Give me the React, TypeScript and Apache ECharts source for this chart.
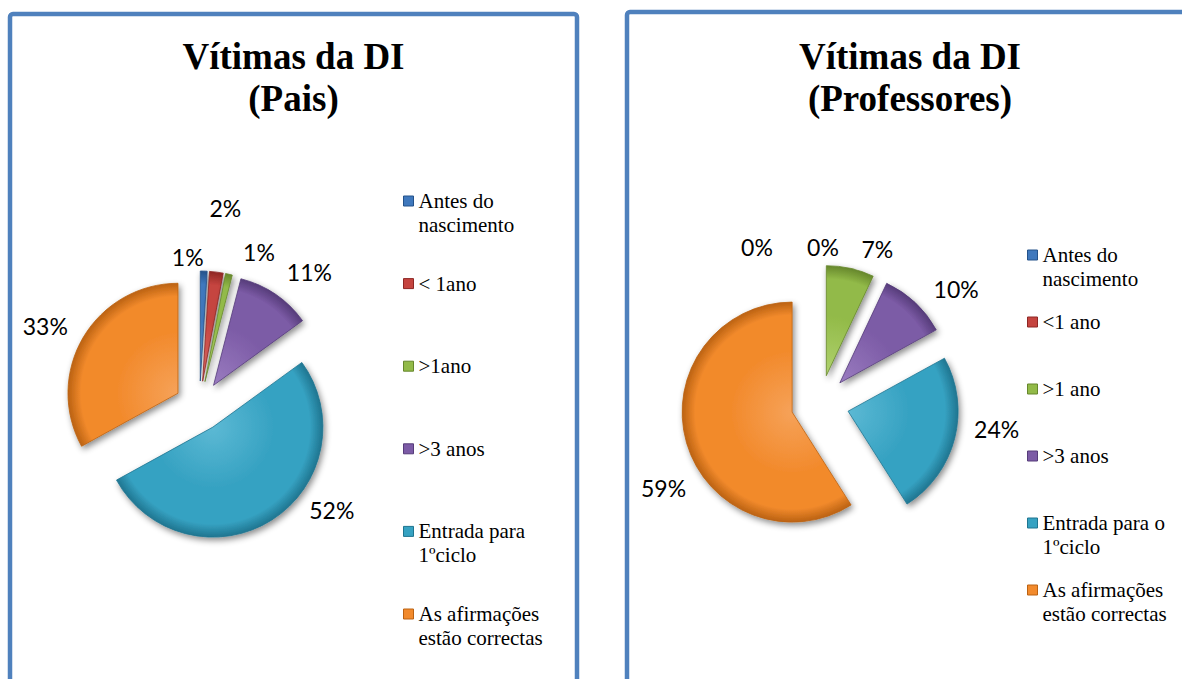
import React, { useEffect, useRef } from 'react';
import * as echarts from 'echarts';

// ---- data ----
const categoriesPais = ['Antes do nascimento', '< 1ano', '>1ano', '>3 anos', 'Entrada para 1ºciclo', 'As afirmações estão correctas'];
const valuesPais = [1, 2, 1, 11, 52, 33];
const categoriesProf = ['Antes do nascimento', '<1 ano', '>1 ano', '>3 anos', 'Entrada para o 1ºciclo', 'As afirmações estão correctas'];
const valuesProf = [0, 0, 7, 10, 24, 59];
const titlePais = 'Vítimas da DI\n(Pais)';
const titleProf = 'Vítimas da DI\n(Professores)';

// legend line breaks (layout only)
const legendBreaks: Record<string, string> = {
  'Antes do nascimento': 'Antes do\nnascimento',
  'Entrada para 1ºciclo': 'Entrada para\n1ºciclo',
  'Entrada para o 1ºciclo': 'Entrada para o\n1ºciclo',
  'As afirmações estão correctas': 'As afirmações\nestão correctas',
};

// ---- styles ----
const colors = ['#3f78bd', '#c5443f', '#92ba48', '#7c5ba6', '#36a2c2', '#f28a2c'];
const darker = ['#24528a', '#8e2724', '#66872c', '#563c7a', '#1f7590', '#bb6212'];
const lighter = ['#6a9ad3', '#dc6b67', '#b0d26e', '#9a7cc0', '#5cb9d4', '#f6a259'];

// label placement tweaks (pixels, layout only)
const nudgePais = [[-21, -14], [4, -64], [25, -22], [29, -22], [55, -10], [-33, -11]];
const nudgeProf = [[-68, -18], [-2, -18], [22, -19], [36, -14], [37, -10], [-18, 45]];

function makeData(names: string[], values: number[], cx: number, cy: number, r: number) {
  return names.map((name, i) => ({
    name,
    value: values[i],
    selected: true,
    itemStyle: {
      color: new echarts.graphic.RadialGradient(cx, cy, r, [
        { offset: 0, color: lighter[i] },
        { offset: 0.55, color: colors[i] },
        { offset: 0.88, color: colors[i] },
        { offset: 1, color: darker[i] },
      ], true),
      borderColor: darker[i],
      borderWidth: 0.8,
    },
  }));
}

function makeSeries(names: string[], values: number[], cx: number, cy: number, r: number, offset: number) {
  return {
    type: 'pie',
    center: [cx, cy],
    radius: r,
    startAngle: 90,
    clockwise: true,
    selectedMode: 'multiple',
    selectedOffset: offset,
    avoidLabelOverlap: false,
    data: makeData(names, values, cx, cy, r),
    itemStyle: {
      shadowBlur: 6,
      shadowColor: 'rgba(0,0,0,0.45)',
      shadowOffsetX: 2,
      shadowOffsetY: 3,
    },
    label: { show: false },
    labelLine: { show: false },
    emphasis: { disabled: true },
  };
}

// transparent twin pie that carries the percentage labels
function makeLabelSeries(names: string[], values: number[], cx: number, cy: number, r: number, offset: number, nudge: number[][]) {
  const total = values.reduce((a, b) => a + b, 0);
  const mids: number[] = [];
  let acc = 0;
  values.forEach((v) => {
    mids.push(((acc + v / 2) / total) * 2 * Math.PI);
    acc += v;
  });
  return {
    type: 'pie',
    center: [cx, cy],
    radius: r,
    startAngle: 90,
    clockwise: true,
    silent: true,
    z: 5,
    avoidLabelOverlap: false,
    data: names.map((name, i) => ({ name, value: values[i] })),
    itemStyle: { color: 'rgba(0,0,0,0)', borderWidth: 0 },
    label: {
      show: true,
      position: 'outside',
      formatter: (p: any) => `${p.value}%`,
      fontFamily: 'Lato',
      fontSize: 23,
      color: '#000',
    },
    labelLine: { show: false, length: 0, length2: 0 },
    labelLayout: (p: any) => {
      const t = mids[p.dataIndex];
      const sx = Math.sin(t);
      const sy = -Math.cos(t);
      const n = nudge[p.dataIndex];
      return {
        x: cx + (r + offset) * sx + (sx >= 0 ? 5 : -5) + n[0],
        y: cy + (r + offset) * sy + n[1],
        align: 'center',
        verticalAlign: 'middle',
      };
    },
    emphasis: { disabled: true },
  };
}

function makeLegend(names: string[], left: number, top: number, gap: number) {
  return {
    orient: 'vertical',
    left,
    top,
    itemWidth: 10,
    itemHeight: 10,
    itemGap: gap,
    icon: 'rect',
    selectedMode: false,
    data: names.map((n, i) => ({ name: n, itemStyle: { color: colors[i], borderColor: darker[i], borderWidth: 1 } })),
    formatter: (name: string) => {
      const t = legendBreaks[name] || name;
      const lines = t.split('\n');
      return '\n' + lines[0] + '\n' + (lines[1] || '');
    },
    textStyle: {
      fontFamily: 'Liberation Serif',
      fontSize: 21,
      lineHeight: 24,
      color: '#000',
    },
  };
}

export default function App() {
  const ref = useRef<HTMLDivElement>(null);
  useEffect(() => {
    if (!ref.current) return;
    const chart = echarts.init(ref.current, null, { renderer: 'svg' });
    const titleStyle = {
      fontFamily: 'Liberation Serif',
      fontWeight: 'bold',
      fontSize: 37,
      lineHeight: 42,
      fill: '#000',
      textAlign: 'center',
      textVerticalAlign: 'top',
    };
    chart.setOption({
      animation: false,
      backgroundColor: '#fff',
      graphic: [
        { type: 'rect', z: -10, shape: { x: 10, y: 14, width: 567, height: 720, r: 3 }, style: { fill: '#fff', stroke: '#4f81bd', lineWidth: 4.5 } },
        { type: 'rect', z: -10, shape: { x: 627, y: 12, width: 600, height: 720, r: 3 }, style: { fill: '#fff', stroke: '#4f81bd', lineWidth: 4.5 } },
        { type: 'text', x: 293.5, y: 35, style: { ...titleStyle, text: titlePais } },
        { type: 'text', x: 910, y: 35, style: { ...titleStyle, text: titleProf } },
      ],
      legend: [
        makeLegend(categoriesPais, 398, 160, 10.6),
        makeLegend(categoriesProf, 1022, 214, -5),
      ],
      series: [
        makeSeries(categoriesPais, valuesPais, 199.5, 406, 110, 25),
        makeSeries(categoriesProf, valuesProf, 820, 404, 110, 29),
        makeLabelSeries(categoriesPais, valuesPais, 199.5, 406, 110, 25, nudgePais),
        makeLabelSeries(categoriesProf, valuesProf, 820, 404, 110, 29, nudgeProf),
      ],
    });
    return () => chart.dispose();
  }, []);
  return <div ref={ref} style={{ position: 'absolute', left: 0, top: 0, width: 1182, height: 679 }} />;
}
